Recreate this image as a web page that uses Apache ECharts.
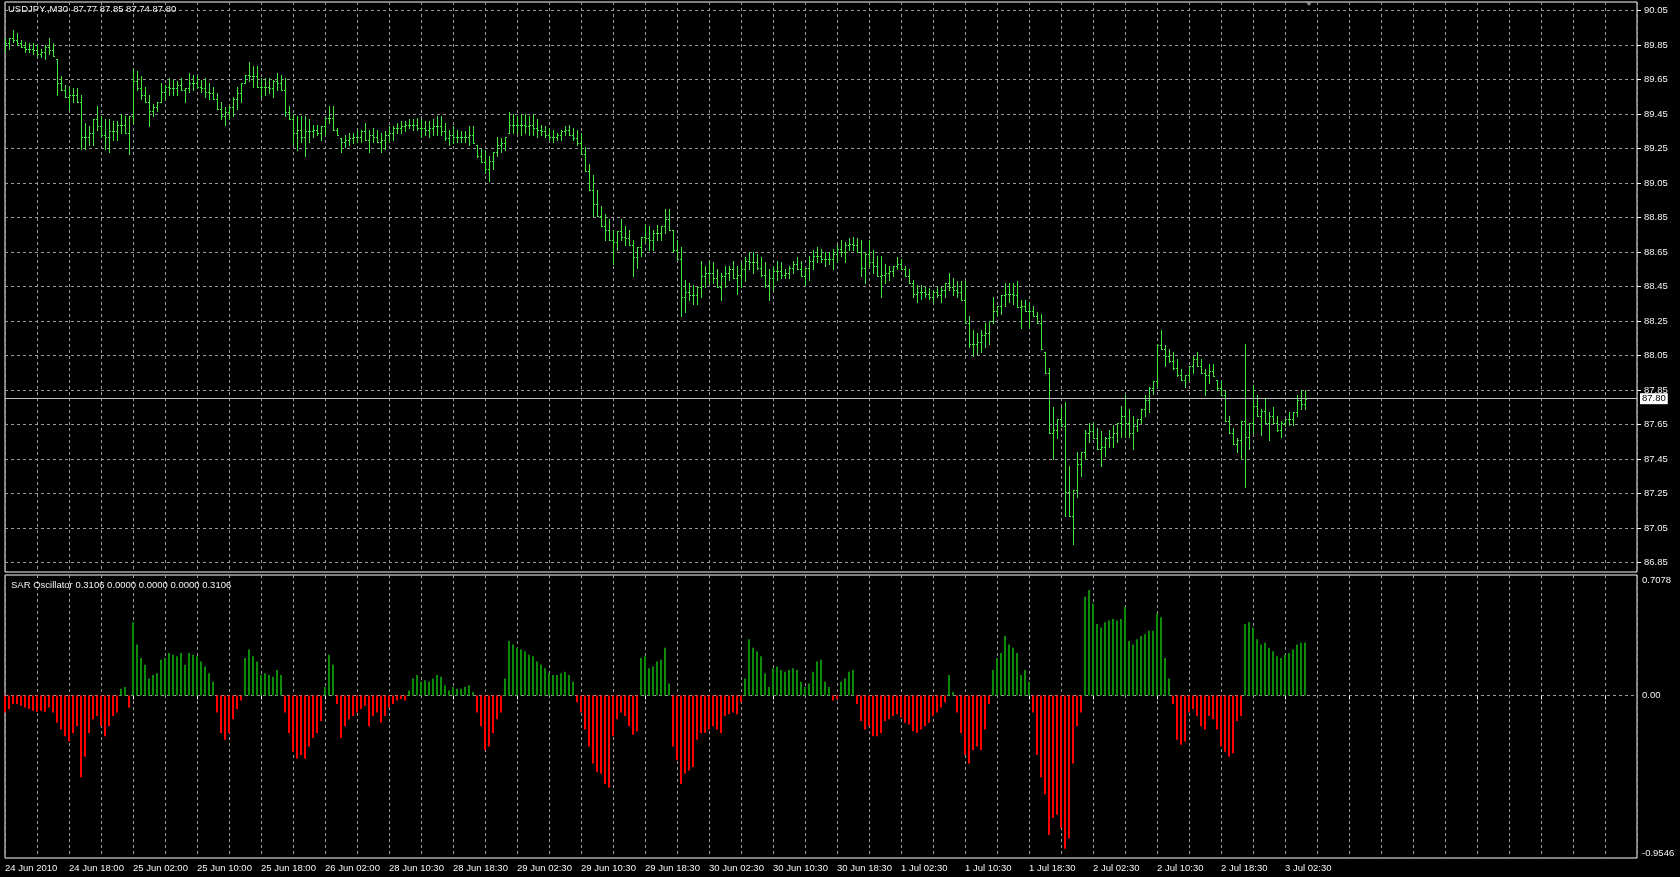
<!DOCTYPE html>
<html>
<head>
<meta charset="utf-8">
<script src="https://cdn.jsdelivr.net/npm/echarts@6/dist/echarts.min.js"></script>
<style>
html,body{margin:0;padding:0;background:#000;}
#c{width:1680px;height:877px;}
</style>
</head>
<body>
<div id="c"></div>
<script>
// ---------- data ----------
const symbolName = 'USDJPY.,M30';
const oscName = 'SAR Oscillator';

const timeLabels = ['24 Jun 2010','24 Jun 18:00','25 Jun 02:00','25 Jun 10:00','25 Jun 18:00','26 Jun 02:00',
  '28 Jun 10:30','28 Jun 18:30','29 Jun 02:30','29 Jun 10:30','29 Jun 18:30','30 Jun 02:30','30 Jun 10:30',
  '30 Jun 18:30','1 Jul 02:30','1 Jul 10:30','1 Jul 18:30','2 Jul 02:30','2 Jul 10:30','2 Jul 18:30','3 Jul 02:30'];

const priceTicks = [86.85,87.05,87.25,87.45,87.65,87.85,88.05,88.25,88.45,88.65,88.85,89.05,89.25,89.45,89.65,89.85,90.05];
const oscTicks = [-0.9546, 0, 0.7078];

const open = [
89.83,89.86,89.89,89.88,89.86,89.84,89.83,89.83,89.82,89.80,
89.81,89.84,89.82,89.77,89.63,89.59,89.55,89.56,89.56,89.52,
89.32,89.32,89.34,89.42,89.38,89.33,89.32,89.35,89.35,89.39,
89.39,89.34,89.44,89.64,89.60,89.56,89.52,89.47,89.49,89.52,
89.58,89.61,89.60,89.60,89.62,89.59,89.60,89.63,89.63,89.61,
89.60,89.58,89.57,89.54,89.48,89.44,89.46,89.49,89.54,89.57,
89.63,89.68,89.67,89.67,89.61,89.61,89.61,89.60,89.64,89.63,
89.59,89.46,89.42,89.34,89.36,89.32,89.35,89.35,89.36,89.34,
89.38,89.43,89.43,89.36,89.31,89.29,89.30,89.31,89.32,89.32,
89.35,89.30,89.33,89.32,89.29,89.30,89.33,89.34,89.37,89.37,
89.38,89.39,89.39,89.39,89.37,89.37,89.36,89.37,89.38,89.38,
89.35,89.31,89.33,89.32,89.32,89.32,89.32,89.33,89.27,89.21,
89.17,89.13,89.18,89.23,89.27,89.28,89.34,89.39,89.39,89.39,
89.39,89.38,89.39,89.37,89.36,89.35,89.33,89.32,89.32,89.33,
89.35,89.36,89.33,89.31,89.28,89.22,89.12,89.01,88.93,88.86,
88.80,88.78,88.72,88.71,88.77,88.74,88.73,88.69,88.62,88.68,
88.74,88.73,88.72,88.76,88.76,88.80,88.84,88.78,88.66,88.61,
88.39,88.42,88.40,88.40,88.45,88.51,88.53,88.53,88.50,88.45,
88.51,88.53,88.55,88.50,88.52,88.55,88.60,88.59,88.59,88.56,
88.52,88.46,88.50,88.54,88.54,88.52,88.53,88.56,88.58,88.55,
88.51,88.56,88.60,88.63,88.63,88.61,88.61,88.61,88.64,88.67,
88.65,88.69,88.70,88.69,88.65,88.56,88.64,88.59,88.57,88.51,
88.52,88.53,88.54,88.57,88.58,88.55,88.51,88.47,88.41,88.42,
88.42,88.41,88.39,88.42,88.40,88.43,88.47,88.45,88.43,88.42,
88.37,88.24,88.12,88.12,88.13,88.17,88.18,88.25,88.31,88.34,
88.40,88.41,88.41,88.40,88.33,88.34,88.31,88.31,88.28,88.24,
88.07,87.95,87.60,87.62,87.68,87.64,87.26,87.12,87.27,87.42,
87.49,87.60,87.61,87.57,87.51,87.52,87.57,87.58,87.60,87.66,
87.70,87.66,87.60,87.64,87.68,87.74,87.79,87.86,87.90,88.11,
88.09,88.05,88.02,87.98,87.94,87.91,87.94,87.99,88.03,87.99,
87.95,87.94,87.96,87.91,87.86,87.82,87.67,87.60,87.54,87.56,
87.67,87.58,87.66,87.76,87.70,87.73,87.66,87.70,87.66,87.62,
87.66,87.68,87.68,87.72,87.79,87.77];

const high = [
89.89,89.89,89.94,89.92,89.88,89.87,89.86,89.86,89.85,89.83,
89.85,89.89,89.86,89.77,89.67,89.62,89.61,89.60,89.60,89.56,
89.40,89.38,89.42,89.50,89.44,89.42,89.42,89.41,89.41,89.45,
89.44,89.44,89.71,89.70,89.67,89.61,89.56,89.51,89.52,89.63,
89.62,89.66,89.65,89.64,89.66,89.60,89.69,89.68,89.67,89.65,
89.66,89.63,89.61,89.57,89.52,89.49,89.50,89.55,89.61,89.63,
89.68,89.75,89.73,89.73,89.66,89.66,89.66,89.65,89.69,89.68,
89.66,89.50,89.45,89.44,89.44,89.44,89.42,89.39,89.39,89.38,
89.43,89.50,89.50,89.37,89.31,89.33,89.34,89.34,89.36,89.36,
89.40,89.36,89.37,89.36,89.34,89.35,89.38,89.38,89.40,89.41,
89.41,89.42,89.42,89.43,89.42,89.41,89.41,89.42,89.44,89.44,
89.40,89.36,89.38,89.36,89.35,89.35,89.38,89.38,89.27,89.25,
89.24,89.21,89.23,89.32,89.31,89.32,89.46,89.45,89.44,89.45,
89.45,89.44,89.45,89.42,89.39,89.38,89.37,89.36,89.34,89.36,
89.38,89.39,89.37,89.36,89.34,89.26,89.16,89.10,89.01,88.92,
88.87,88.84,88.78,88.77,88.84,88.80,88.78,88.72,88.68,88.74,
88.81,88.80,88.78,88.81,88.80,88.90,88.90,88.78,88.72,88.68,
88.49,88.47,88.46,88.45,88.60,88.57,88.60,88.59,88.55,88.53,
88.57,88.57,88.60,88.57,88.59,88.62,88.65,88.65,88.64,88.62,
88.59,88.55,88.57,88.60,88.59,88.55,88.57,88.60,88.62,88.60,
88.56,88.63,88.66,88.68,88.67,88.65,88.65,88.67,88.69,88.72,
88.71,88.73,88.74,88.73,88.72,88.65,88.72,88.66,88.63,88.63,
88.58,88.57,88.57,88.62,88.61,88.57,88.55,88.49,88.46,88.46,
88.45,88.44,88.43,88.45,88.45,88.47,88.53,88.50,88.48,88.48,
88.48,88.28,88.20,88.18,88.20,88.24,88.25,88.39,88.34,88.40,
88.47,88.47,88.47,88.48,88.37,88.37,88.36,88.34,88.30,88.29,
88.07,87.98,87.75,87.68,87.75,87.78,87.41,87.27,87.49,87.49,
87.62,87.66,87.66,87.63,87.61,87.58,87.62,87.65,87.66,87.76,
87.82,87.74,87.70,87.68,87.74,87.82,87.87,87.90,88.11,88.20,
88.11,88.09,88.07,88.03,87.97,87.94,87.99,88.05,88.07,88.03,
87.97,88.00,88.00,87.91,87.90,87.85,87.70,87.63,87.57,87.67,
88.12,87.66,87.88,87.82,87.74,87.80,87.72,87.75,87.70,87.67,
87.68,87.72,87.72,87.82,87.85,87.85];

const low = [
89.81,89.83,89.87,89.85,89.84,89.81,89.81,89.80,89.79,89.78,
89.77,89.80,89.79,89.56,89.59,89.55,89.48,89.52,89.52,89.25,
89.25,89.27,89.27,89.36,89.32,89.25,89.23,89.30,89.30,89.34,
89.34,89.22,89.40,89.59,89.54,89.52,89.38,89.44,89.47,89.52,
89.54,89.56,89.56,89.56,89.59,89.52,89.58,89.59,89.60,89.58,
89.55,89.54,89.54,89.48,89.42,89.39,89.42,89.44,89.48,89.52,
89.63,89.64,89.61,89.61,89.55,89.56,89.57,89.55,89.59,89.59,
89.44,89.42,89.27,89.24,89.29,89.21,89.29,89.32,89.33,89.30,
89.33,89.40,89.36,89.33,89.23,89.26,89.27,89.28,89.29,89.29,
89.30,89.23,89.29,89.29,89.23,89.25,89.29,89.30,89.34,89.34,
89.35,89.37,89.36,89.36,89.32,89.33,89.32,89.33,89.33,89.33,
89.30,89.27,89.28,89.29,89.29,89.29,89.27,89.28,89.20,89.17,
89.11,89.06,89.13,89.21,89.23,89.24,89.34,89.34,89.34,89.33,
89.34,89.33,89.33,89.32,89.33,89.32,89.30,89.29,89.30,89.30,
89.33,89.33,89.30,89.27,89.22,89.12,89.01,88.86,88.86,88.80,
88.72,88.72,88.58,88.66,88.72,88.69,88.69,88.51,88.56,88.63,
88.71,88.66,88.66,88.72,88.72,88.76,88.78,88.65,88.61,88.28,
88.30,88.37,88.35,88.35,88.39,88.45,88.47,88.47,88.45,88.37,
88.45,88.49,88.50,88.41,88.45,88.48,88.55,88.53,88.55,88.51,
88.45,88.37,88.43,88.49,88.50,88.50,88.50,88.53,88.55,88.51,
88.46,88.49,88.55,88.59,88.59,88.57,88.58,88.55,88.59,88.63,
88.59,88.66,88.66,88.65,88.51,88.47,88.57,88.53,88.51,88.39,
88.47,88.49,88.51,88.55,88.55,88.51,88.47,88.39,88.36,88.38,
88.39,88.38,88.36,88.39,88.36,88.39,88.43,88.40,88.39,88.37,
88.24,88.10,88.05,88.06,88.07,88.10,88.12,88.24,88.28,88.29,
88.34,88.36,88.35,88.33,88.21,88.31,88.21,88.28,88.24,88.09,
87.95,87.60,87.45,87.57,87.64,87.12,87.12,86.96,87.23,87.35,
87.45,87.55,87.57,87.51,87.41,87.47,87.52,87.52,87.55,87.58,
87.58,87.58,87.51,87.61,87.66,87.70,87.72,87.83,87.87,88.09,
87.99,88.01,87.97,87.93,87.91,87.87,87.91,87.95,87.99,87.95,
87.82,87.89,87.93,87.85,87.82,87.67,87.60,87.54,87.49,87.45,
87.29,87.51,87.60,87.70,87.59,87.66,87.56,87.66,87.61,87.58,
87.64,87.65,87.65,87.70,87.74,87.74];

const close = [
89.86,89.89,89.88,89.86,89.84,89.83,89.83,89.82,89.80,89.81,
89.84,89.82,89.79,89.63,89.59,89.55,89.56,89.56,89.52,89.32,
89.32,89.34,89.42,89.38,89.33,89.32,89.35,89.35,89.39,89.39,
89.34,89.44,89.64,89.60,89.56,89.52,89.47,89.49,89.52,89.58,
89.61,89.60,89.60,89.62,89.59,89.60,89.63,89.63,89.61,89.60,
89.58,89.57,89.54,89.48,89.44,89.46,89.49,89.54,89.57,89.63,
89.68,89.67,89.67,89.61,89.61,89.61,89.60,89.64,89.63,89.59,
89.46,89.42,89.34,89.36,89.32,89.35,89.35,89.36,89.34,89.38,
89.43,89.43,89.36,89.33,89.29,89.30,89.31,89.32,89.32,89.35,
89.30,89.33,89.32,89.29,89.30,89.33,89.34,89.37,89.37,89.38,
89.39,89.39,89.39,89.37,89.37,89.36,89.37,89.38,89.38,89.35,
89.31,89.33,89.32,89.32,89.32,89.32,89.33,89.28,89.21,89.17,
89.13,89.18,89.23,89.27,89.28,89.32,89.39,89.39,89.39,89.39,
89.38,89.39,89.37,89.36,89.35,89.33,89.32,89.32,89.33,89.35,
89.36,89.33,89.31,89.28,89.22,89.12,89.01,88.93,88.86,88.80,
88.78,88.72,88.71,88.77,88.74,88.73,88.69,88.62,88.68,88.74,
88.73,88.72,88.76,88.76,88.80,88.84,88.78,88.66,88.61,88.39,
88.42,88.40,88.40,88.45,88.51,88.53,88.53,88.50,88.45,88.51,
88.53,88.55,88.50,88.52,88.55,88.60,88.59,88.59,88.56,88.52,
88.46,88.50,88.54,88.54,88.52,88.53,88.56,88.58,88.55,88.51,
88.56,88.60,88.63,88.63,88.61,88.61,88.61,88.64,88.67,88.65,
88.69,88.70,88.69,88.65,88.56,88.64,88.59,88.57,88.51,88.52,
88.53,88.54,88.57,88.58,88.55,88.51,88.47,88.41,88.42,88.42,
88.41,88.39,88.42,88.40,88.43,88.47,88.45,88.43,88.42,88.37,
88.24,88.12,88.12,88.13,88.17,88.18,88.25,88.31,88.34,88.40,
88.41,88.41,88.40,88.33,88.34,88.31,88.31,88.28,88.24,88.09,
87.95,87.60,87.62,87.68,87.64,87.26,87.12,87.27,87.42,87.49,
87.60,87.61,87.57,87.51,87.52,87.57,87.58,87.60,87.66,87.70,
87.66,87.60,87.64,87.68,87.74,87.79,87.86,87.90,88.11,88.09,
88.05,88.02,87.98,87.94,87.91,87.94,87.99,88.03,87.99,87.95,
87.94,87.96,87.93,87.86,87.82,87.67,87.60,87.54,87.56,87.67,
87.58,87.66,87.76,87.70,87.73,87.66,87.70,87.66,87.62,87.66,
87.68,87.68,87.72,87.79,87.77,87.80];

const osc = [
-0.10,-0.08,-0.05,-0.05,-0.06,-0.07,-0.08,-0.09,-0.095,-0.09,
-0.095,-0.07,-0.10,-0.16,-0.20,-0.24,-0.27,-0.22,-0.18,-0.48,
-0.36,-0.22,-0.14,-0.12,-0.18,-0.24,-0.18,-0.12,-0.10,0.04,
0.05,-0.07,0.43,0.30,0.22,0.18,0.10,0.12,0.13,0.21,
0.22,0.25,0.24,0.23,0.25,0.18,0.25,0.24,0.23,0.20,
0.17,0.13,0.08,-0.10,-0.22,-0.26,-0.22,-0.14,-0.08,-0.03,
0.22,0.27,0.23,0.20,0.12,0.13,0.12,0.11,0.15,0.12,
-0.10,-0.22,-0.33,-0.37,-0.35,-0.37,-0.30,-0.25,-0.22,-0.15,
0.05,0.24,0.18,-0.05,-0.25,-0.18,-0.14,-0.12,-0.10,-0.08,
-0.06,-0.18,-0.12,-0.10,-0.16,-0.12,-0.07,-0.05,-0.03,-0.02,
-0.03,0.03,0.10,0.12,0.08,0.09,0.08,0.10,0.12,0.11,
0.06,0.03,0.05,0.04,0.04,0.05,0.06,0.02,-0.10,-0.18,
-0.32,-0.30,-0.22,-0.14,-0.10,0.10,0.32,0.30,0.28,0.27,
0.26,0.24,0.23,0.20,0.18,0.16,0.13,0.12,0.12,0.13,
0.14,0.12,0.08,-0.04,-0.10,-0.20,-0.30,-0.40,-0.45,-0.46,
-0.52,-0.54,-0.24,-0.14,-0.10,-0.12,-0.18,-0.23,-0.21,0.22,
0.23,0.16,0.17,0.20,0.21,0.28,0.07,-0.30,-0.38,-0.52,
-0.46,-0.44,-0.42,-0.26,-0.22,-0.22,-0.20,-0.18,-0.20,-0.22,
-0.12,-0.11,-0.10,-0.11,-0.04,0.10,0.33,0.28,0.26,0.23,
0.13,0.05,0.16,0.17,0.15,0.14,0.15,0.16,0.15,0.08,
0.05,0.07,0.14,0.20,0.21,0.08,0.05,-0.03,-0.02,0.08,
0.10,0.14,0.15,-0.05,-0.15,-0.20,-0.18,-0.24,-0.24,-0.22,
-0.15,-0.14,-0.12,-0.11,-0.13,-0.16,-0.17,-0.21,-0.22,-0.20,
-0.18,-0.16,-0.12,-0.10,-0.07,-0.04,0.12,0.02,-0.10,-0.22,
-0.35,-0.40,-0.32,-0.30,-0.32,-0.20,-0.05,0.15,0.22,0.25,
0.35,0.30,0.28,0.25,0.12,0.15,0.08,-0.10,-0.35,-0.48,
-0.58,-0.82,-0.72,-0.70,-0.78,-0.90,-0.84,-0.40,-0.18,-0.10,
0.58,0.62,0.54,0.42,0.40,0.43,0.44,0.45,0.44,0.45,
0.52,0.32,0.30,0.33,0.35,0.36,0.38,0.38,0.48,0.46,
0.22,0.10,-0.05,-0.26,-0.29,-0.27,-0.10,-0.08,-0.12,-0.18,
-0.20,-0.12,-0.14,-0.20,-0.30,-0.33,-0.36,-0.34,-0.15,-0.12,
0.42,0.43,0.40,0.33,0.30,0.31,0.28,0.26,0.23,0.22,
0.24,0.25,0.27,0.30,0.31,0.3106];

// ---------- layout / style ----------
const SLOTS = 409;            // bar slots visible in the window (4 px each)
const LABEL_EVERY = 16;       // bars between time labels
const GRID_EVERY = 8;         // bars between vertical grid lines
const P_MIN = 86.795, P_MAX = 90.1005;
const FONT = 'Liberation Sans';
const FS = 9.5;
const TXT = '#f2f2f2';
const GRIDC = '#9a9a9a';
const BAR = '#40e840';
const UP = '#0b8a0b';
const DN = '#ff0000';

const cats = Array.from({length: SLOTS}, (_, i) => String(i));
const ohlc = open.map((o, i) => [i, o, high[i], low[i], close[i]]);
const last = open.length - 1;
const f2 = v => v.toFixed(2);

const chart = echarts.init(document.getElementById('c'), null, {renderer: 'canvas'});

const vGrid = {show: true, interval: GRID_EVERY - 1, lineStyle: {color: GRIDC, type: [3, 3], width: 1}};

const option = {
  backgroundColor: '#000',
  animation: false,
  textStyle: {fontFamily: FONT},
  title: [
    {text: symbolName + '  ' + [open[last], high[last], low[last], close[last]].map(f2).join(' '),
     left: 8, top: 4, padding: 0, textStyle: {color: TXT, fontSize: FS, fontWeight: 'normal', fontFamily: FONT}},
    {text: oscName + ' ' + [osc[last], 0, 0, 0, osc[last]].map(v => v.toFixed(4)).join(' '),
     left: 11, top: 580, padding: 0, textStyle: {color: TXT, fontSize: FS, fontWeight: 'normal', fontFamily: FONT}}
  ],
  grid: [
    {left: 5, right: 43, top: 2, height: 570, show: true, borderColor: '#ffffff', borderWidth: 1, backgroundColor: 'transparent'},
    {left: 5, right: 43, top: 575, height: 283, show: true, borderColor: '#ffffff', borderWidth: 1, backgroundColor: 'transparent'}
  ],
  xAxis: [
    {type: 'category', gridIndex: 0, data: cats, boundaryGap: false,
     axisLine: {show: false}, axisTick: {show: false}, axisLabel: {show: false}, splitLine: vGrid},
    {type: 'category', gridIndex: 1, data: cats, boundaryGap: false,
     axisLine: {show: false},
     axisTick: {show: true, interval: LABEL_EVERY - 1, length: 4, lineStyle: {color: '#ffffff'}},
     axisLabel: {show: true, interval: LABEL_EVERY - 1, color: TXT, fontSize: FS, fontFamily: FONT,
       align: 'left', margin: 5,
       formatter: (v, idx) => (idx % LABEL_EVERY === 0 && timeLabels[idx / LABEL_EVERY]) ? timeLabels[idx / LABEL_EVERY] : ''},
     splitLine: vGrid}
  ],
  yAxis: [
    {type: 'value', gridIndex: 0, position: 'right', min: P_MIN, max: P_MAX, scale: true,
     axisLine: {show: false},
     axisTick: {show: true, length: 4, customValues: priceTicks, lineStyle: {color: '#ffffff'}},
     axisLabel: {customValues: priceTicks, formatter: v => v.toFixed(2), color: TXT, fontSize: FS, fontFamily: FONT, margin: 7},
     splitLine: {show: true, lineStyle: {color: GRIDC, type: [3, 3], width: 1}}},
    {type: 'value', gridIndex: 1, position: 'right', min: oscTicks[0], max: oscTicks[2],
     axisLine: {show: false},
     axisTick: {show: false, customValues: [0]},
     axisLabel: {customValues: oscTicks, color: TXT, fontSize: FS, fontFamily: FONT, margin: 5,
       verticalAlignMinLabel: 'bottom', verticalAlignMaxLabel: 'top',
       formatter: v => v === 0 ? '0.00' : v.toFixed(4)},
     splitLine: {show: true, lineStyle: {color: GRIDC, type: [3, 3], width: 1}}}
  ],
  graphic: [
    {type: 'polygon', shape: {points: [[1305, 1], [1313, 1], [1309, 6]]}, style: {fill: '#8c8c8c'}, silent: true}
  ],
  series: [
    {type: 'custom', name: 'USDJPY', xAxisIndex: 0, yAxisIndex: 0, data: ohlc, clip: true,
     encode: {x: 0, y: [1, 2, 3, 4]},
     renderItem: (params, api) => {
       const i = api.value(0);
       const pO = api.coord([i, api.value(1)]);
       const pH = api.coord([i, api.value(2)]);
       const pL = api.coord([i, api.value(3)]);
       const pC = api.coord([i, api.value(4)]);
       const X = Math.round(pH[0]);
       const yo = Math.round(pO[1]) + 0.5, yc = Math.round(pC[1]) + 0.5;
       const st = {stroke: BAR, lineWidth: 1};
       return {type: 'group', children: [
         {type: 'line', shape: {x1: X + 0.5, y1: Math.round(pH[1]), x2: X + 0.5, y2: Math.round(pL[1]) + 1}, style: st},
         {type: 'line', shape: {x1: X - 1, y1: yo, x2: X, y2: yo}, style: st},
         {type: 'line', shape: {x1: X + 1, y1: yc, x2: X + 2, y2: yc}, style: st}
       ]};
     },
     markLine: {silent: true, symbol: 'none', animation: false,
       data: [{yAxis: close[last]}],
       lineStyle: {color: '#c0c0c0', type: 'solid', width: 1},
       label: {show: true, position: 'end', distance: 3, formatter: f2(close[last]),
         backgroundColor: '#ffffff', color: '#000000', padding: [1, 2, 0, 2], fontSize: FS, fontFamily: FONT}}
    },
    {type: 'bar', name: oscName, xAxisIndex: 1, yAxisIndex: 1, data: osc, barWidth: 2,
     itemStyle: {color: p => p.value >= 0 ? UP : DN}}
  ]
};

chart.setOption(option);
</script>
</body>
</html>
